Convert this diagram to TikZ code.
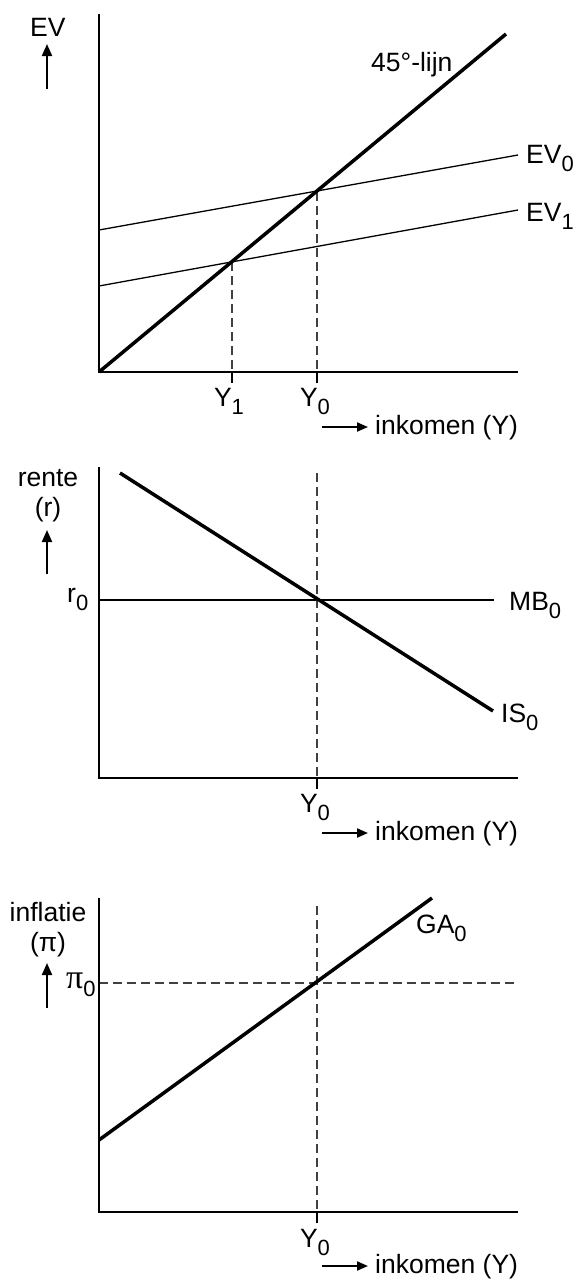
\documentclass[tikz,border=0pt]{standalone}
\usepackage{fontspec}
\setmainfont{Liberation Sans}
\newfontfamily\pifont{Liberation Serif}
\usetikzlibrary{arrows.meta}
\tikzset{axis/.style = {line width=2pt}}
\tikzset{curve/.style = {line width=3.5pt}}
\tikzset{thin line/.style = {line width=1.3pt}}
\tikzset{guide/.style = {line width=1.3pt, black!75, dash pattern=on 9pt off 5pt}}
\tikzset{tick/.style = {line width=2pt}}
\tikzset{up/.style = {line width=2pt, -{Triangle[length=12pt,width=10pt]}}}
\tikzset{side/.style = {line width=2pt, -{Triangle[length=11pt,width=9pt]}}}
\tikzset{lbl/.style = {font=\fontsize{26.5}{31}\selectfont, inner sep=0pt}}
\newcommand{\idx}[1]{\raisebox{-8pt}{\fontsize{22}{22}\selectfont #1}}

\begin{document}
\begin{tikzpicture}[x=1pt, y=-1pt]
      \useasboundingbox (0,0) rectangle (576,1282);

      % bovenste figuur: EV en 45-graden-lijn
      \coordinate (top1) at (99,14);
      \coordinate (o1) at (99,372);
      \coordinate (end1) at (518,372);
      \coordinate (lijn) at (506,34);
      \coordinate (evnulA) at (99,230);
      \coordinate (evnulB) at (518,155);
      \coordinate (eveenA) at (99,286);
      \coordinate (eveenB) at (518,210);
      \coordinate (snij0) at (317,192);
      \coordinate (snij1) at (232,262);
      \coordinate (voet0) at (317,372);
      \coordinate (voet1) at (232,372);
      \draw[thin line] (evnulA) -- (evnulB);
      \draw[thin line] (eveenA) -- (eveenB);
      \draw[guide] (snij0) -- (voet0);
      \draw[guide] (snij1) -- (voet1);
      \draw[tick] (voet0) -- ++(0,11);
      \draw[tick] (voet1) -- ++(0,11);
      \draw[axis] (top1) -- (o1) -- (end1);
      \draw[curve] (o1) -- (lijn);
      \node[lbl, anchor=base west] (ev) at (30,36) {EV};
      \coordinate (pijl1a) at (47,89);
      \coordinate (pijl1b) at (47,44);
      \draw[up] (pijl1a) -- (pijl1b);
      \node[lbl, anchor=base west] (graden) at (371,71) {45°-lijn};
      \node[lbl, anchor=base west] (evnul) at (526,163) {EV\idx{0}};
      \node[lbl, anchor=base west] (eveen) at (526,221) {EV\idx{1}};
      \node[lbl, anchor=base] (yeen) at (229,406) {Y\idx{1}};
      \node[lbl, anchor=base] (ynul) at (315,406) {Y\idx{0}};
      \coordinate (ink1a) at (322,427);
      \coordinate (ink1b) at (368,427);
      \draw[side] (ink1a) -- (ink1b);
      \node[lbl, anchor=base west] (ink1) at (375,434) {inkomen (Y)};

      % middelste figuur: rente, MB en IS
      \coordinate (top2) at (99,467);
      \coordinate (o2) at (99,778);
      \coordinate (end2) at (518,778);
      \coordinate (isA) at (120,473);
      \coordinate (isB) at (493,711);
      \coordinate (mbA) at (99,600);
      \coordinate (mbB) at (494,600);
      \coordinate (snij2) at (317,473);
      \coordinate (voet2) at (317,778);
      \draw[thin line] (mbA) -- (mbB);
      \draw[guide] (snij2) -- (voet2);
      \draw[tick] (voet2) -- ++(0,11);
      \draw[axis] (top2) -- (o2) -- (end2);
      \draw[curve] (isA) -- (isB);
      \node[lbl, anchor=base] (rente) at (48,486) {rente};
      \node[lbl, anchor=base] (r) at (48,516) {(r)};
      \coordinate (pijl2a) at (47,574);
      \coordinate (pijl2b) at (47,530);
      \draw[up] (pijl2a) -- (pijl2b);
      \node[lbl, anchor=base west] (rnul) at (67,602) {r\idx{0}};
      \node[lbl, anchor=base west] (mbnul) at (509,610) {MB\idx{0}};
      \node[lbl, anchor=base west] (isnul) at (501,722) {IS\idx{0}};
      \node[lbl, anchor=base] (ynul2) at (315,812) {Y\idx{0}};
      \coordinate (ink2a) at (322,833);
      \coordinate (ink2b) at (368,833);
      \draw[side] (ink2a) -- (ink2b);
      \node[lbl, anchor=base west] (ink2) at (375,840) {inkomen (Y)};

      % onderste figuur: inflatie en GA
      \coordinate (top3) at (99,898);
      \coordinate (o3) at (99,1212);
      \coordinate (end3) at (518,1212);
      \coordinate (gaA) at (99,1140);
      \coordinate (gaB) at (432,898);
      \coordinate (pinulA) at (99,983);
      \coordinate (pinulB) at (518,983);
      \coordinate (snij3) at (317,906);
      \coordinate (voet3) at (317,1212);
      \draw[guide] (pinulA) -- (pinulB);
      \draw[guide] (snij3) -- (voet3);
      \draw[tick] (voet3) -- ++(0,11);
      \draw[axis] (top3) -- (o3) -- (end3);
      \draw[curve] (gaA) -- (gaB);
      \node[lbl, anchor=base] (inflatie) at (48,921) {inflatie};
      \node[lbl, anchor=base] (pi) at (48,951) {(π)};
      \coordinate (pijl3a) at (47,1008);
      \coordinate (pijl3b) at (47,963);
      \draw[up] (pijl3a) -- (pijl3b);
      \node[lbl, anchor=base west] (pinul) at (66,988) {{\pifont\fontsize{34}{34}\selectfont π}\idx{0}};
      \node[lbl, anchor=base west] (ganul) at (416,933) {GA\idx{0}};
      \node[lbl, anchor=base] (ynul3) at (315,1247) {Y\idx{0}};
      \coordinate (ink3a) at (322,1266);
      \coordinate (ink3b) at (368,1266);
      \draw[side] (ink3a) -- (ink3b);
      \node[lbl, anchor=base west] (ink3) at (375,1273) {inkomen (Y)};
    \end{tikzpicture}
\end{document}
